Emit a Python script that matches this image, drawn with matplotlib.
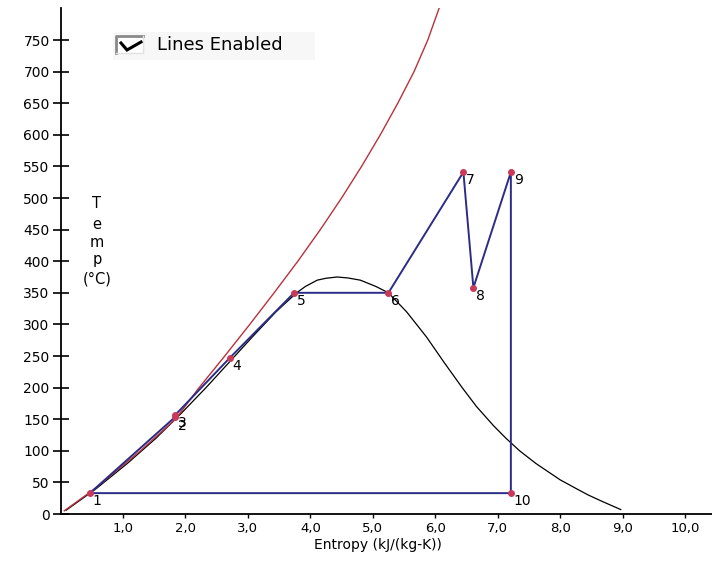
import matplotlib
matplotlib.use("Agg")
import matplotlib.pyplot as plt
from matplotlib.patches import Rectangle
from matplotlib.lines import Line2D
from matplotlib.ticker import FuncFormatter, FixedLocator

# ---- data ----
# Rankine cycle state points (entropy kJ/(kg-K), temperature degC)
cycle_labels = ['1', '2', '3', '4', '5', '6', '7', '8', '9', '10']
cycle_s = [0.47, 1.83, 1.84, 2.71, 3.74, 5.25, 6.45, 6.61, 7.21, 7.21]
cycle_T = [33, 153, 157, 247, 350, 350, 541, 358, 541, 33]

# saturation dome (liquid branch then vapor branch)
dome_s = [0.09, 0.57, 1.07, 1.53, 1.94, 2.33, 2.70, 3.07, 3.45, 3.78, 3.92, 4.11,
          4.25, 4.43, 4.60, 4.80, 5.05, 5.25, 5.54, 5.86, 6.14, 6.43, 6.66, 6.93,
          7.13, 7.35, 7.61, 7.91, 8.00, 8.26, 8.45, 8.67, 8.97]
dome_T = [6, 40, 80, 120, 160, 200, 240, 280, 320, 350, 360, 370,
          373, 375, 373.5, 370, 360, 350, 320, 280, 240, 200, 170, 140,
          120, 100, 80, 60, 54, 40, 30, 20, 7]

# red line
red_s = [0.06, 0.55, 1.28, 1.84, 2.22, 2.63, 3.03, 3.42, 3.80, 4.16, 4.50,
         4.82, 5.12, 5.40, 5.66, 5.88, 6.06]
red_T = [5, 40, 100, 150, 200, 250, 300, 350, 400, 450, 500,
         550, 600, 650, 700, 750, 800]

x_ticks = [1, 2, 3, 4, 5, 6, 7, 8, 9, 10]
y_ticks = [0, 50, 100, 150, 200, 250, 300, 350, 400, 450, 500, 550, 600, 650, 700, 750]

# ---- figure ----
W, H = 712, 563
fig = plt.figure(figsize=(W / 100, H / 100), dpi=100)
fig.patch.set_facecolor('white')

def px(x, y):
    return x / W, 1 - y / H

ax_left, ax_right, ax_top, ax_bot = 60.5, 712, 8.4, 514
ax = fig.add_axes([ax_left / W, (H - ax_bot) / H, (ax_right - ax_left) / W,
                   (ax_bot - ax_top) / H])
ax.set_xlim(0, 10.43)
ax.set_ylim(0, 800)
ax.patch.set_alpha(0)

for sp in ['top', 'right']:
    ax.spines[sp].set_visible(False)
for sp in ['left', 'bottom']:
    ax.spines[sp].set_linewidth(1.3)
    ax.spines[sp].set_color('black')

ax.xaxis.set_major_locator(FixedLocator(x_ticks))
ax.yaxis.set_major_locator(FixedLocator(y_ticks))
ax.xaxis.set_major_formatter(FuncFormatter(lambda v, p: f"{v:.1f}".replace('.', ',')))
ax.yaxis.set_major_formatter(FuncFormatter(lambda v, p: f"{int(v)}"))
ax.tick_params(axis='y', direction='inout', length=12, width=1.2, pad=1.8,
               labelsize=10, colors='black')
ax.tick_params(axis='x', direction='out', length=3, width=1.0, pad=2.5,
               labelsize=9.5, colors='black')

# dome
ax.plot(dome_s, dome_T, color='black', lw=0.9, zorder=2)
# red line
ax.plot(red_s, red_T, color='#b8323c', lw=1.0, zorder=3)
# cycle
cs = cycle_s + [cycle_s[0]]
cT = cycle_T + [cycle_T[0]]
ax.plot(cs, cT, color='#2c2c86', lw=1.4, zorder=4)
ax.plot(cycle_s, cycle_T, linestyle='none', marker='o', markersize=4,
        color='#c83a5a', zorder=5)
for lab, s, t in zip(cycle_labels, cycle_s, cycle_T):
    ax.annotate(lab, (s, t), xytext=(2.0, -6.0), textcoords='offset points',
                ha='left', va='center', fontsize=10, color='black', zorder=6)

# axis labels
fig.text(*px(378, 545), 'Entropy (kJ/(kg-K))', ha='center', va='center', fontsize=10)
for ch, yb in zip(['T', 'e', 'm', 'p', '(°C)'], [208, 229, 247, 264, 284]):
    fig.text(*px(97, yb), ch, ha='center', va='baseline', fontsize=10.5)

# checkbox "Lines Enabled"
tf = fig.transFigure
fig.add_artist(Rectangle(px(113, 60), 202 / W, 28 / H, transform=tf,
                         facecolor='#f7f7f7', edgecolor='none', zorder=1))
fig.add_artist(Rectangle(px(116, 53), 27 / W, 17 / H, transform=tf,
                         facecolor='white', edgecolor='none', zorder=2))
fig.add_artist(Line2D([116 / W, 116 / W, 143 / W], [1 - 53 / H, 1 - 36 / H, 1 - 36 / H],
                      transform=tf, color='#8a8a8a', lw=2.0, zorder=3))
fig.add_artist(Line2D([116 / W, 143 / W, 143 / W], [1 - 53 / H, 1 - 53 / H, 1 - 36 / H],
                      transform=tf, color='#e2e2e2', lw=1.0, zorder=3))
fig.add_artist(Line2D([121 / W, 127 / W, 141 / W], [1 - 43 / H, 1 - 50 / H, 1 - 42 / H],
                      transform=tf, color='black', lw=2.2, zorder=4,
                      solid_joinstyle='miter'))
fig.text(*px(157, 44.5), 'Lines Enabled', ha='left', va='center', fontsize=13)

fig.savefig('out.png', dpi=100)
